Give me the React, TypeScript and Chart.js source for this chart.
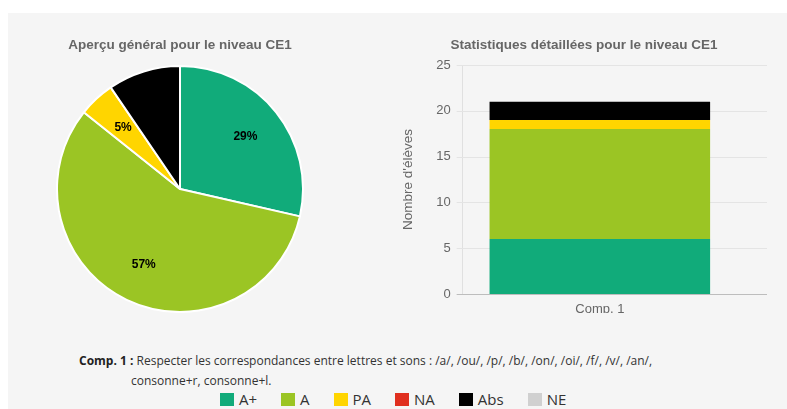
import React, { useEffect, useRef } from "react";
import { Chart, registerables } from "chart.js";

Chart.register(...registerables);

const categories = ["Comp. 1"];
const levels = ["A+", "A", "PA", "NA", "Abs", "NE"];
const levelColors = ["#11ab7a", "#9bc524", "#ffd500", "#e02f1f", "#000000", "#d0d0d0"];
const counts = [6, 12, 1, 0, 2, 0];
const yTicksMax = 25;
const yTicksStep = 5;
const pieTitle = "Aperçu général pour le niveau CE1";
const barTitle = "Statistiques détaillées pour le niveau CE1";
const yAxisTitle = "Nombre d'élèves";
const compLabel = "Comp. 1 :";
const compText1 = "Respecter les correspondances entre lettres et sons : /a/, /ou/, /p/, /b/, /on/, /oi/, /f/, /v/, /an/,";
const compText2 = "consonne+r, consonne+l.";

const FONT = "'Liberation Sans', Arial, Helvetica, sans-serif";

const pieLabels = {
  id: "pieLabels",
  afterDatasetsDraw(chart: any) {
    const ctx = chart.ctx;
    const meta = chart.getDatasetMeta(0);
    const data = chart.data.datasets[0].data as number[];
    const total = data.reduce((a, b) => a + b, 0);
    ctx.save();
    ctx.font = "bold 12px " + FONT;
    ctx.fillStyle = "#000000";
    ctx.textAlign = "center";
    ctx.textBaseline = "middle";
    meta.data.forEach((arc: any, i: number) => {
      const v = data[i];
      if (!v) return;
      const mid = (arc.startAngle + arc.endAngle) / 2;
      const r = arc.outerRadius * 0.68;
      const x = arc.x + Math.cos(mid) * r;
      const y = arc.y + Math.sin(mid) * r;
      ctx.fillText(Math.round((v / total) * 100) + "%", x, y);
    });
    ctx.restore();
  },
};

const extGrid = {
  id: "extGrid",
  beforeDatasetsDraw(chart: any) {
    const ys = chart.scales.y;
    const ctx = chart.ctx;
    const left = chart.chartArea.left;
    const right = chart.width - 1;
    ctx.save();
    ctx.lineWidth = 1;
    ys.ticks.forEach((t: any) => {
      const py = Math.round(ys.getPixelForValue(t.value)) + 0.5;
      ctx.strokeStyle = t.value === 0 ? "#bdbdbd" : "#e4e4e4";
      ctx.beginPath();
      ctx.moveTo(left - 6, py);
      ctx.lineTo(right, py);
      ctx.stroke();
    });
    ctx.restore();
  },
};

function PieChart() {
  const ref = useRef<HTMLCanvasElement>(null);
  useEffect(() => {
    const chart = new Chart(ref.current!, {
      type: "pie",
      data: {
        labels: levels,
        datasets: [
          {
            data: counts,
            backgroundColor: levelColors,
            borderColor: "#ffffff",
            borderWidth: 2,
            hoverOffset: 0,
          },
        ],
      },
      options: {
        responsive: false,
        animation: false,
        devicePixelRatio: 1,
        layout: { padding: 0 },
        plugins: {
          legend: { display: false },
          tooltip: { enabled: false },
          title: {
            display: true,
            text: pieTitle,
            color: "#666",
            font: { family: FONT, size: 13.5, weight: "bold" },
            padding: { top: 24, bottom: 11.8 },
          },
        },
      },
      plugins: [pieLabels],
    });
    return () => chart.destroy();
  }, []);
  return <canvas ref={ref} width={344} height={300} style={{ position: "absolute", left: 0, top: 0 }} />;
}

function BarChart() {
  const ref = useRef<HTMLCanvasElement>(null);
  useEffect(() => {
    const chart = new Chart(ref.current!, {
      type: "bar",
      data: {
        labels: categories,
        datasets: levels.map((lv, i) => ({
          label: lv,
          data: [counts[i]],
          backgroundColor: levelColors[i],
          borderWidth: 0,
          categoryPercentage: 1,
          barPercentage: 0.804,
        })),
      },
      options: {
        responsive: false,
        animation: false,
        devicePixelRatio: 1,
        layout: { padding: { left: 0, right: 0, top: 0, bottom: 17.4 } },
        plugins: {
          legend: { display: false },
          tooltip: { enabled: false },
          title: {
            display: true,
            text: barTitle,
            color: "#666",
            font: { family: FONT, size: 13.5, weight: "bold" },
            padding: { top: 24, bottom: 11.8 },
          },
        },
        scales: {
          x: {
            stacked: true,
            grid: { display: false, drawTicks: false },
            border: { display: false },
            ticks: { color: "#666", font: { family: FONT, size: 13 }, padding: 8 },
          },
          y: {
            stacked: true,
            min: 0,
            max: yTicksMax,
            grid: { display: false, drawTicks: false },
            border: { display: true, color: "#e0e0e0" },
            ticks: { stepSize: yTicksStep, color: "#666", font: { family: FONT, size: 13 }, padding: 12 },
            title: {
              display: true,
              text: yAxisTitle,
              color: "#666",
              font: { family: FONT, size: 13.5 },
              padding: { top: 0, bottom: 8 },
            },
          },
          yRight: {
            type: "linear",
            position: "right",
            display: true,
            min: 0,
            max: yTicksMax,
            grid: { display: false, drawTicks: false },
            border: { display: false },
            ticks: { display: false },
            afterFit: (s: any) => {
              s.width = 31;
            },
          },
        },
      },
      plugins: [extGrid],
    });
    return () => chart.destroy();
  }, []);
  return (
    <div style={{ position: "absolute", left: 392, top: 0, width: 368, height: 300, overflow: "hidden" }}>
      <canvas ref={ref} width={368} height={330} />
    </div>
  );
}

export default function App() {
  return (
    <div style={{ position: "fixed", left: 0, top: 0, right: 0, bottom: 0, background: "#ffffff" }}>
      <div
        style={{
          position: "absolute",
          left: 8,
          top: 13,
          right: -20,
          bottom: -20,
          background: "#f5f5f5",
          fontFamily: "'Open Sans', sans-serif",
        }}
      >
        <PieChart />
        <BarChart />
        <div
          style={{
            position: "absolute",
            left: 71,
            top: 338,
            fontSize: 12,
            lineHeight: "20px",
            color: "#333",
            whiteSpace: "nowrap",
          }}
        >
          <div>
            <b style={{ color: "#222" }}>{compLabel}</b> {compText1}
          </div>
          <div style={{ paddingLeft: 52 }}>{compText2}</div>
        </div>
        <div
          style={{
            position: "absolute",
            left: 212,
            top: 376,
            display: "flex",
            gap: 24,
            alignItems: "center",
            fontSize: 15,
            lineHeight: "20px",
            color: "#333",
          }}
        >
          {levels.map((lv, i) => (
            <div key={lv} style={{ display: "flex", alignItems: "center" }}>
              <span style={{ display: "inline-block", width: 14, height: 13, background: levelColors[i], marginRight: 5 }} />
              <span>{lv}</span>
            </div>
          ))}
        </div>
      </div>
    </div>
  );
}
